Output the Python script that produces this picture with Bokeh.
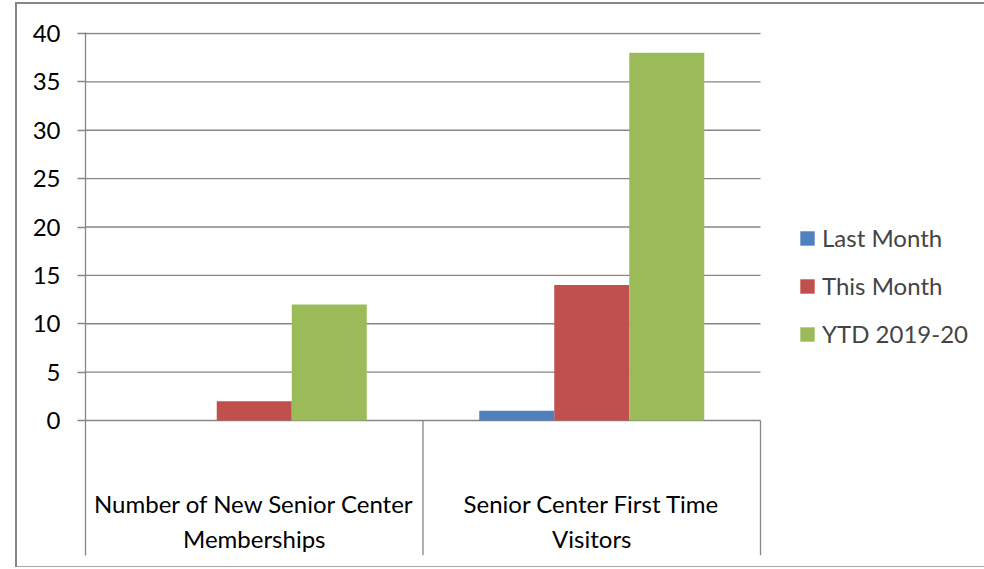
from bokeh.plotting import figure
from bokeh.models import ColumnDataSource, FixedTicker, Legend, LegendItem
from bokeh.transform import dodge
from bokeh.core.properties import value
from bokeh.embed import file_html
from bokeh.resources import INLINE

# ---- data ----
categories = ["Number of New Senior Center\nMemberships",
              "Senior Center First Time\nVisitors"]
series_names = ["Last Month", "This Month", "YTD 2019-20"]
last_month = [0, 1]
this_month = [2, 14]
ytd_2019_20 = [12, 38]
y_ticks = [0, 5, 10, 15, 20, 25, 30, 35, 40]

colors = ["#4F81BD", "#C0504D", "#9BBB59"]
FONT = "Lato"
FS = "24px"
GRID = "#868686"

n_cat = len(categories)
pos = [i + 0.5 for i in range(n_cat)]
src = ColumnDataSource(dict(x=pos, cat=categories, last=last_month,
                            this=this_month, ytd=ytd_2019_20))

px_per_unit_y = 387 / 40.0
y_end = 40 + 1 / px_per_unit_y
y_start = -135 / px_per_unit_y
x_end = (984 - 85) / 337.5

p = figure(width=984, height=569, output_backend="svg", toolbar_location=None,
           x_range=(0, x_end), y_range=(y_start, y_end),
           x_axis_location=None,
           min_border_left=85, min_border_right=0,
           min_border_top=32, min_border_bottom=14)
p.outline_line_color = None
p.background_fill_alpha = 0
p.border_fill_alpha = 0
p.styles = {
    "background-color": "white",
    "background-image": ("linear-gradient(#878787,#878787),"
                         "linear-gradient(#878787,#878787),"
                         "linear-gradient(#a8a8a8,#a8a8a8)"),
    "background-repeat": "no-repeat",
    "background-position": "15px 2px, 15px 2px, 15px 566px",
    "background-size": "2px 565px, 969px 2px, 969px 1px",
}

bw = 1 / 4.5
renderers = []
for name, field, off, col in zip(series_names, ["last", "this", "ytd"],
                                 [-bw, 0, bw], colors):
    r = p.vbar(x=dodge("x", off), top=field, width=bw, bottom=0, source=src,
               fill_color=col, line_color=None)
    renderers.append((name, r))

# horizontal gridlines spanning only the category area
p.ygrid.visible = False
p.xgrid.visible = False
p.segment(x0=[0] * len(y_ticks), y0=y_ticks, x1=[n_cat] * len(y_ticks),
          y1=y_ticks, line_color=GRID, line_width=1.3, level="underlay")

# category separators below the zero line
p.segment(x0=[1, n_cat], y0=[0, 0], x1=[1, n_cat],
          y1=[y_start, y_start], line_color=GRID, line_width=1.3)

# category labels
p.text(x="x", y=-10.4, text="cat", source=src, text_align="center",
       text_baseline="middle", text_font=value(FONT), text_font_size=FS,
       text_color="black", text_line_height=1.2)

yax = p.yaxis[0]
yax.ticker = FixedTicker(ticks=y_ticks)
yax.axis_line_color = GRID
yax.axis_line_width = 1.3
yax.major_tick_line_color = GRID
yax.major_tick_line_width = 1.3
yax.major_tick_in = 0
yax.major_tick_out = 8
yax.minor_tick_line_color = None
yax.major_label_standoff = 17
yax.major_label_text_font = FONT
yax.major_label_text_font_size = FS
yax.major_label_text_color = "black"

legend = Legend(items=[LegendItem(label=n, renderers=[r]) for n, r in renderers],
                location=(713, 207), orientation="vertical",
                glyph_width=18, glyph_height=18, label_standoff=6,
                label_text_font=FONT, label_text_font_size=FS,
                label_height=22, spacing=19, padding=0, margin=0,
                border_line_color=None, background_fill_alpha=0)
p.add_layout(legend, "center")

open("out.html", "w").write(file_html(p, INLINE))
